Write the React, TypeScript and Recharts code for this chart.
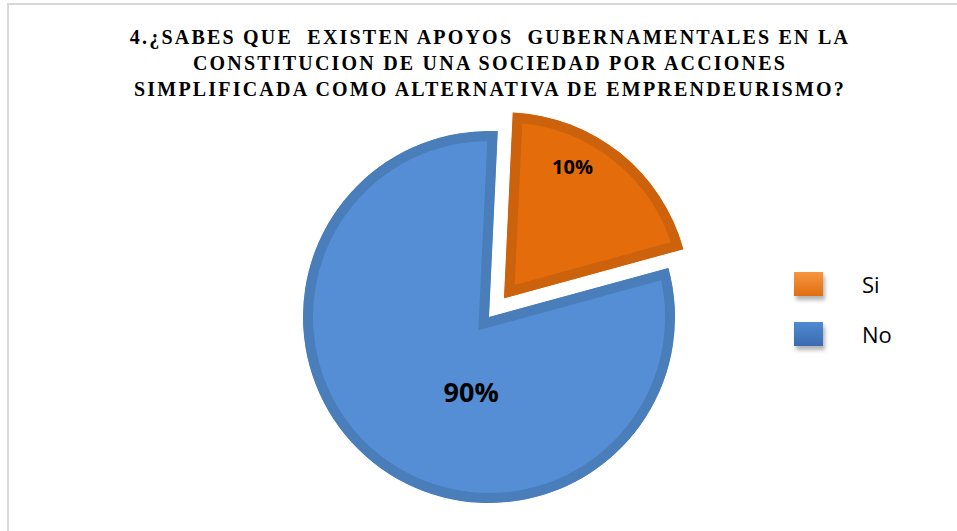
import React from 'react'
import { PieChart, Pie, Cell, Sector, Legend } from 'recharts'

// answers to question 4
const answers = ['Si', 'No']
// slice sizes as drawn (the orange slice covers about a fifth of the pie)
const shares = [20, 80]
// percentages as printed on the slices
const shareLabels = ['10%', '90%']

const titleLines = [
  '4.¿SABES QUE  EXISTEN APOYOS  GUBERNAMENTALES EN LA',
  'CONSTITUCION DE UNA SOCIEDAD POR ACCIONES',
  'SIMPLIFICADA COMO ALTERNATIVA DE EMPRENDEURISMO?',
]

const fills = ['#E46C0A', '#558ED5']
const bands = ['#CC620B', '#4A7EBB']
const legendGradients = [
  'linear-gradient(#F8953F, #DE6F12)',
  'linear-gradient(#4F8AD2, #3A6BAE)',
]
const explode = [24, 0]
const labelRadius = [0.8, 0.41]
const labelTurn = [11.3, 25.2]
const labelSize = [20, 27]

const data = answers.map((answer, i) => ({ answer, value: shares[i] }))

const RAD = Math.PI / 180
const polar = (x: number, y: number, r: number, angle: number) => ({
  x: x + r * Math.cos(-angle * RAD),
  y: y + r * Math.sin(-angle * RAD),
})

const sliceIndex = (props: any) => {
  const name = props.payload?.answer ?? props.name
  return Math.max(0, answers.indexOf(name))
}

const renderSlice = (props: any) => {
  const { cx, cy, outerRadius, startAngle, endAngle, midAngle } = props
  const i = sliceIndex(props)
  const c = polar(cx, cy, explode[i], midAngle)
  const id = `slice-clip-${i}`
  return (
    <g>
      <defs>
        <clipPath id={id}>
          <Sector
            cx={c.x}
            cy={c.y}
            innerRadius={0}
            outerRadius={outerRadius}
            startAngle={startAngle}
            endAngle={endAngle}
          />
        </clipPath>
      </defs>
      <Sector
        cx={c.x}
        cy={c.y}
        innerRadius={0}
        outerRadius={outerRadius}
        startAngle={startAngle}
        endAngle={endAngle}
        fill={fills[i]}
        stroke={bands[i]}
        strokeWidth={20}
        clipPath={`url(#${id})`}
      />
    </g>
  )
}

const renderShare = (props: any) => {
  const { cx, cy, outerRadius, midAngle } = props
  const i = sliceIndex(props)
  const c = polar(cx, cy, explode[i], midAngle)
  const p = polar(c.x, c.y, outerRadius * labelRadius[i], midAngle + labelTurn[i])
  return (
    <text
      x={p.x}
      y={p.y}
      textAnchor="middle"
      dominantBaseline="central"
      fontFamily="'Open Sans', sans-serif"
      fontWeight={700}
      fontSize={labelSize[i]}
      fill="#000"
    >
      {shareLabels[i]}
    </text>
  )
}

const renderLegend = () => (
  <div>
    {answers.map((a, i) => (
      <div key={a} style={{ display: 'flex', alignItems: 'center', height: 50 }}>
        <div
          style={{
            width: 29,
            height: 24,
            background: legendGradients[i],
            boxShadow: '2px 4px 4px rgba(0,0,0,0.3)',
          }}
        />
        <span
          style={{
            marginLeft: 39,
            fontFamily: "'Open Sans', sans-serif",
            fontSize: 22,
            color: '#000',
          }}
        >
          {a}
        </span>
      </div>
    ))}
  </div>
)

export default function App() {
  return (
    <div
      style={{
        position: 'fixed',
        left: 0,
        top: 0,
        width: 957,
        height: 531,
        overflow: 'hidden',
        background: '#fff',
      }}
    >
      <div
        style={{
          position: 'absolute',
          left: 7,
          top: 3,
          width: 1000,
          height: 600,
          border: '2px solid #D9D9D9',
        }}
      />
      <div
        style={{
          position: 'absolute',
          left: 0,
          top: 24,
          width: 980,
          textAlign: 'center',
          fontFamily: "'Liberation Serif', 'Times New Roman', serif",
          fontWeight: 700,
          fontSize: 20,
          lineHeight: '26px',
          letterSpacing: 2.2,
          whiteSpace: 'pre',
          color: '#000',
        }}
      >
        {titleLines.map((line) => (
          <div key={line}>{line}</div>
        ))}
      </div>
      <div style={{ position: 'absolute', left: 0, top: 0 }}>
        <PieChart width={957} height={531} margin={{ top: 0, right: 0, bottom: 0, left: 0 }}>
          <Pie
            data={data}
            dataKey="value"
            nameKey="answer"
            cx={489}
            cy={317}
            outerRadius={186}
            startAngle={87.3}
            endAngle={-272.7}
            stroke="none"
            shape={renderSlice}
            label={renderShare}
            labelLine={false}
            isAnimationActive={false}
          >
            {data.map((d, i) => (
              <Cell key={d.answer} fill={fills[i]} />
            ))}
          </Pie>
          <Legend
            layout="vertical"
            align="right"
            verticalAlign="middle"
            content={renderLegend}
            wrapperStyle={{ left: 794, top: 259, width: 140 }}
          />
        </PieChart>
      </div>
    </div>
  )
}
